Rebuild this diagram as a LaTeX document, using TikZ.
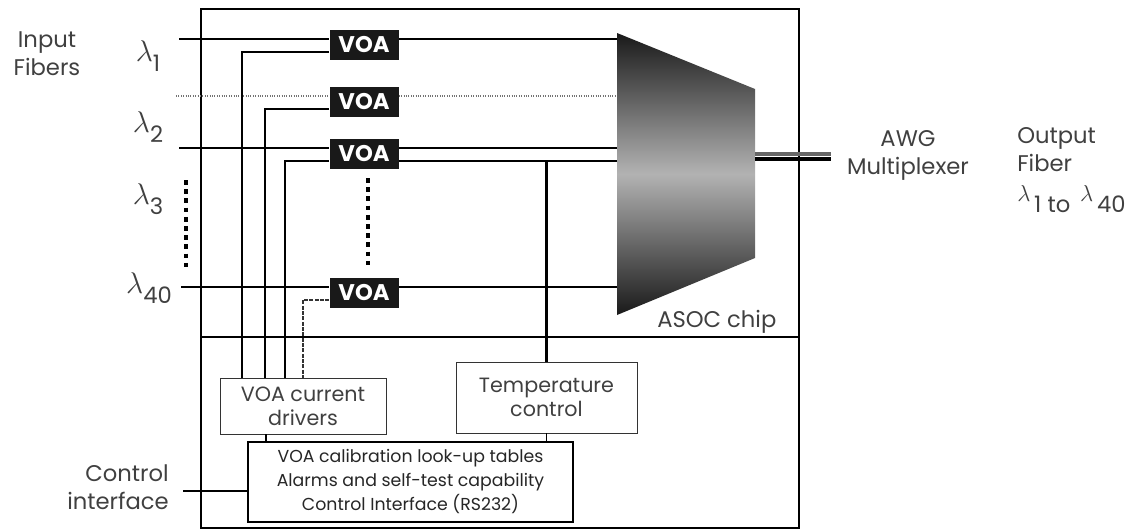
\documentclass[tikz,border=0pt]{standalone}
\usepackage{fontspec}
\setmainfont{Poppins}
\usetikzlibrary{positioning}
\usetikzlibrary{calc}
\definecolor{inkgray}{gray}{0.25}
\newcommand{\lam}[1]{\scalebox{1.3}{$\lambda$}\raisebox{-0.75ex}{#1}}
\newcommand{\lamout}[1]{$\lambda$\,\raisebox{-0.9ex}{#1}}
\tikzset{
    fiber/.style={draw=black, line width=1.6pt},
    faint/.style={draw=black!55, line width=0.8pt, densely dotted},
    drive/.style={draw=black, line width=1.6pt},
    thindrive/.style={draw=black!80, line width=1pt, dash pattern=on 3pt off 1pt},
    voabox/.style={fill=black!90, minimum width=51.75pt, minimum height=22.5pt, inner sep=0pt,
        text=white, font=\fontsize{17}{17}\selectfont\bfseries},
    thinbox/.style={draw=black!80, line width=0.7pt, inner sep=0pt, align=center, text=inkgray,
        font=\fontsize{15.5}{18}\selectfont},
    label/.style={text=inkgray, inner sep=0pt, font=\fontsize{17}{21}\selectfont},
    dots/.style={draw=black, line width=3.6pt, dash pattern=on 3.6pt off 3.3pt}
}
\begin{document}
\begin{tikzpicture}[x=0.75pt, y=-0.75pt]
    \useasboundingbox (0,0) rectangle (1145,529);

    % Outer housing and the line that splits it
    \node[draw=black, line width=1pt, minimum width=448.5pt, minimum height=389.25pt, inner sep=0pt] (housing) at (500,268.5) {};
    \coordinate (splitl) at (201,337);
    \draw[line width=0.9pt] (splitl) -- (splitl -| housing.east);

    % AWG multiplexer
    \coordinate (awgnw) at (617,33);
    \coordinate (awgne) at (755,89);
    \coordinate (awgse) at (755,258);
    \coordinate (awgsw) at (617,315);
    \shade[top color=black!90, bottom color=black!90, middle color=black!30] (awgnw) -- (awgne) -- (awgse) -- (awgsw) -- cycle;
    \node[label, right] (chip) at (657,322) {ASOC chip};

    % VOA row
    \foreach \n/\y in {1/45, 2/102, 3/154, 4/293} {
        \node[voabox] (voa\n) at (364,\y) {VOA};
        \coordinate (sigin\n) at ([yshift=4.5pt]voa\n.west);
        \coordinate (sigout\n) at ([yshift=4.5pt]voa\n.east);
        \coordinate (ctl\n) at ([yshift=-5.25pt]voa\n.west);
    }
    \coordinate (tapout) at ([yshift=-5.25pt]voa3.east);

    % Input fibers into the VOAs, and on to the AWG
    \foreach \n/\s/\x in {1/fiber/179, 2/faint/176, 3/fiber/179, 4/fiber/181} {
        \coordinate (fib\n) at (\x,0 |- sigin\n);
        \draw[\s] (fib\n) -- (sigin\n);
        \draw[\s] (sigout\n) -- (sigout\n -| awgnw);
    }
    \draw[fiber] (tapout) -- (tapout -| awgnw);

    % Output fiber
    \coordinate (outa) at (755,154);
    \coordinate (outb) at (755,159);
    \draw[draw=black!60, line width=2.6pt] (outa) -- ++(76,0);
    \draw[draw=black, line width=3pt] (outb) -- ++(76,0);

    % Lower boards
    \node[thinbox, minimum width=124.5pt, minimum height=42pt] (drivers) at (303,406) {VOA current\\drivers};
    \node[thinbox, minimum width=135.75pt, minimum height=53.25pt] (temp) at (546.5,397.5) {Temperature\\control};
    \node[draw=black, line width=1.8pt, minimum width=243.75pt, minimum height=60pt, inner sep=0pt, align=center,
        font=\fontsize{13}{18}\selectfont, text=black!85] (calib) at (410.5,482) {VOA calibration look-up tables\\Alarms and self-test capability\\Control Interface (RS232)};

    % Drive lines from the current drivers
    \foreach \n/\x/\s in {1/242/drive, 2/265/drive, 3/285/drive, 4/303/thindrive} {
        \draw[\s] (ctl\n) -| (\x,0 |- drivers.north);
    }
    \draw[drive] (temp.north) -- (temp.north |- tapout);
    \draw[line width=1pt] (266,0 |- drivers.south) -- (266,0 |- calib.north);
    \draw[line width=1pt] (temp.south) -- (temp.south |- calib.north);

    % Control interface
    \coordinate (ctlin) at (183,491);
    \draw[fiber] (ctlin) -- (ctlin -| calib.west);

    % Dots for the rows left out
    \coordinate (dotsa) at (186,180);
    \coordinate (dotsb) at (368,178);
    \draw[dots] (dotsa) -- ++(0,87);
    \draw[dots] (dotsb) -- ++(0,87);

    % Labels
    \node[label, align=center] (inputs) at (47,54) {Input\\Fibers};
    \foreach \n/\t/\x/\y in {1/1/148/56, 2/2/148/127, 3/3/148/199, 4/40/149/288} {
        \node[label] (lam\n) at (\x,\y) {\lam{\t}};
    }
    \node[label, align=right, left] (ctlname) at (169,487) {Control\\interface};
    \node[label, align=center] (awgname) at (908,155) {AWG\\Multiplexer};
    \node[label, align=left, right] (outname) at (1017,150) {Output\\Fiber};
    \node[label, right] (outrange) at (1017,199) {\lamout{1} \raisebox{-0.9ex}{to} \,\lamout{40}};
\end{tikzpicture}
\end{document}
